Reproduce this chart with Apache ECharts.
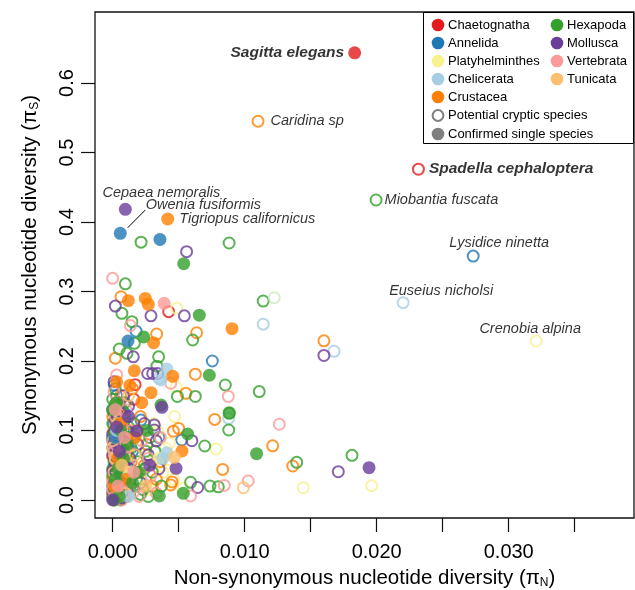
<!DOCTYPE html>
<html><head><meta charset="utf-8">
<script src="https://cdn.jsdelivr.net/npm/echarts@6/dist/echarts.min.js"></script>
<style>html,body{margin:0;padding:0;background:#fff}#c{width:635px;height:590px}</style>
</head><body><div id="c"></div>
<script>
// ---------- DATA ----------
const groupNames = ['Chaetognatha','Annelida','Platyhelminthes','Chelicerata','Crustacea','Hexapoda','Mollusca','Vertebrata','Tunicata'];
const xTicks = [0,0.005,0.01,0.015,0.02,0.025,0.03,0.035];
const xTickLabels = [0,0.01,0.02,0.03];
const yTicks = [0,0.1,0.2,0.3,0.4,0.5,0.6];

// [piN, piS]
const chaetognathaFilled = [[0.01833,0.6435]];
const chaetognathaOpen = [[0.02316,0.476],[0.00424,0.271],[0.0016,0.145],[0.0017,0.166],[0.0008,0.06],[0.0003,0.02]];

const annelidaFilled = [[0.000576,0.3837],[0.00358,0.375],[0.00116,0.2288],[0.0002,0.09],[0.0006,0.035]];
const annelidaOpen = [[0.02731,0.351],[0.00177,0.243],[0.00755,0.200],[0.00012,0.1655],[0.00214,0.115],[0.00523,0.0863],[0.0003,0.15],[0.0009,0.125],[0.0001,0.11],[0.0006,0.08],[0.0002,0.06],[0.001,0.045],[0.0004,0.03],[0.0001,0.01],[0.0015,0.07],[0.0007,0.005],[0.0035,0.09],[0.0,0.02],[0.0005,0.055],[0.0002,0.075],[0.0008,0.1],[0.0003,0.04],[0.0,0.09],[0.0006,0.13],[0.0004,0.015]];

const platyFilled = [[0.0035,0.06],[0.0012,0.04]];
const platyOpen = [[0.03208,0.2288],[0.00485,0.276],[0.0048,0.163],[0.00783,0.0734],[0.00366,0.049],[0.00535,0.0168],[0.01444,0.0177],[0.01962,0.0206],[0.0043,0.058],[0.004,0.075],[0.0025,0.065],[0.0012,0.1],[0.0003,0.13],[0.0007,0.04],[0.002,0.03],[0.0001,0.07],[0.0031,0.11],[0.0046,0.03],[0.0028,0.015],[0.0047,0.12],[0.0002,0.018],[0.0005,0.085],[0.0009,0.03],[0.0001,0.045],[0.0038,0.04],[0.0043,0.082],[0.0034,0.1],[0.0003,0.06],[0.0,0.1],[0.0007,0.012],[0.001,0.07]];

const chelicerataFilled = [[0.0041,0.1885],[0.00366,0.1727],[0.0041,0.068],[0.0038,0.06],[0.0003,0.1],[0.0012,0.005]];
const chelicerataOpen = [[0.0220,0.284],[0.0114,0.253],[0.01677,0.214],[0.00879,0.1175],[0.0035,0.175],[0.0004,0.14],[0.0008,0.02],[0.0001,0.05],[0.0006,0.07],[0.0003,0.012],[0.0,0.085],[0.0005,0.03]];

const crustaceaFilled = [[0.004167,0.4043],[0.00247,0.290],[0.00118,0.2868],[0.0027,0.2815],[0.0031,0.2263],[0.00904,0.2465],[0.00164,0.186],[0.00455,0.178],[0.0029,0.1544],[0.00525,0.0705],[0.0003,0.17],[0.0013,0.165],[0.0006,0.11],[0.0022,0.14],[0.0004,0.06],[0.001,0.03],[0.0017,0.09],[0.0001,0.02]];
const crustaceaOpen = [[0.01101,0.545],[0.00063,0.2925],[0.00333,0.2388],[0.00636,0.2407],[0.0002,0.204],[0.00626,0.181],[0.00555,0.1535],[0.00773,0.116],[0.0046,0.099],[0.005,0.103],[0.00833,0.044],[0.0044,0.0216],[0.0045,0.026],[0.016,0.229],[0.01212,0.078],[0.01364,0.0489],[0.0015,0.16],[0.0008,0.12],[0.0002,0.09],[0.0011,0.07],[0.0003,0.05],[0.0018,0.04],[0.0009,0.015],[0.0026,0.08],[0.0033,0.03],[0.0005,0.14],[0.0021,0.12],[0.0001,0.0],[0.0,0.008],[0.0003,0.016],[0.0006,0.025],[0.0001,0.038],[0.0004,0.045],[0.0008,0.055],[0.0,0.062],[0.0005,0.078],[0.0001,0.1],[0.0007,0.09],[0.001,0.005],[0.0012,0.035],[0.0004,0.13],[0.0019,0.1],[0.0024,0.05],[0.003,0.02],[0.0036,0.055],[0.0002,0.003],[0.0007,0.012],[0.0,0.03],[0.0002,0.068],[0.0009,0.04],[0.0003,0.11],[0.0,0.12],[0.0011,0.095],[0.0006,0.15],[0.0014,0.055]];

const hexapodaFilled = [[0.00538,0.340],[0.00656,0.266],[0.00235,0.2346],[0.00732,0.1795],[0.00366,0.1367],[0.00883,0.1257],[0.00568,0.095],[0.0109,0.0666],[0.00535,0.0096],[0.00353,0.0058],[0.0001,0.0],[0.0003,0.14],[0.0006,0.1],[0.0,0.13],[0.0011,0.08],[0.0004,0.045],[0.0015,0.025],[0.0026,0.1],[0.0008,0.06],[0.0005,0.005],[0.002,0.04],[0.0002,0.03]];
const hexapodaOpen = [[0.01995,0.4317],[0.00215,0.371],[0.00882,0.3698],[0.00096,0.311],[0.0007,0.2686],[0.00146,0.2566],[0.00164,0.2255],[0.00606,0.2302],[0.0114,0.2863],[0.0005,0.2173],[0.00108,0.211],[0.00348,0.206],[0.00335,0.1926],[0.00853,0.1655],[0.0049,0.149],[0.00626,0.149],[0.0111,0.156],[0.00883,0.1247],[0.00879,0.1007],[0.00697,0.0777],[0.01394,0.0542],[0.01813,0.0643],[0.0059,0.0255],[0.00737,0.02],[0.008,0.019],[0.0002,0.16],[0.0009,0.14],[0.0004,0.12],[0.0012,0.105],[0.0001,0.095],[0.0007,0.085],[0.0014,0.075],[0.0003,0.068],[0.0009,0.058],[0.0002,0.048],[0.0011,0.038],[0.0005,0.028],[0.0013,0.018],[0.0002,0.01],[0.0008,0.003],[0.0019,0.055],[0.0024,0.045],[0.0028,0.09],[0.0032,0.07],[0.0037,0.02],[0.0016,0.11],[0.0021,0.008],[0.0,0.005],[0.0001,0.015],[0.0003,0.022],[0.0,0.035],[0.0006,0.042],[0.0001,0.055],[0.0004,0.062],[0.0,0.075],[0.0007,0.02],[0.001,0.012],[0.0005,0.095],[0.0,0.11],[0.0008,0.033],[0.0012,0.045],[0.0003,0.082],[0.0006,0.0],[0.001,0.065],[0.0002,0.1],[0.0018,0.03],[0.0023,0.015],[0.0027,0.005],[0.003,0.04],[0.0016,0.09],[0.0025,0.07],[0.0001,0.025],[0.0004,0.008],[0.0,0.045],[0.0003,0.052],[0.0006,0.07],[0.0,0.088],[0.0004,0.105],[0.0009,0.115],[0.0001,0.125],[0.0007,0.13],[0.0011,0.09],[0.0005,0.015],[0.0002,0.138],[0.0008,0.078],[0.0013,0.03],[0.0,0.145]];
const hexapodaPale = [[0.01224,0.291]];

const molluscaFilled = [[0.00096,0.4183],[0.00182,0.0993],[0.0048,0.0456],[0.01942,0.0465],[0.00373,0.1334],[0.0,0.0],[0.0005,0.07],[0.0012,0.12],[0.0028,0.05],[0.0003,0.105]];
const molluscaOpen = [[0.0056,0.3573],[0.0002,0.279],[0.0029,0.265],[0.00543,0.265],[0.00156,0.206],[0.00265,0.182],[0.00303,0.182],[0.0034,0.182],[0.00315,0.108],[0.00315,0.1007],[0.006,0.0853],[0.00644,0.018],[0.016,0.208],[0.01709,0.0407],[0.0001,0.17],[0.0008,0.15],[0.0003,0.125],[0.0012,0.135],[0.0005,0.09],[0.0013,0.06],[0.0002,0.04],[0.0009,0.025],[0.0003,0.008],[0.0019,0.08],[0.0024,0.11],[0.0035,0.045],[0.0006,0.075],[0.0011,0.1],[0.0,0.012],[0.0004,0.018],[0.0001,0.028],[0.0007,0.035],[0.0002,0.052],[0.0005,0.06],[0.0,0.065],[0.0009,0.045],[0.0003,0.085],[0.0,0.095],[0.0006,0.002],[0.0011,0.015],[0.0002,0.115],[0.0021,0.025],[0.0027,0.065],[0.0033,0.085],[0.0001,0.004],[0.0005,0.025],[0.0,0.042],[0.0008,0.05],[0.0003,0.068],[0.0001,0.08],[0.0006,0.11],[0.0,0.13],[0.001,0.082],[0.0004,0.14],[0.0013,0.045]];

const vertebrataFilled = [[0.0039,0.283],[0.0002,0.13],[0.0009,0.09],[0.0016,0.04],[0.0004,0.02]];
const vertebrataOpen = [[0.0,0.319],[0.00134,0.251],[0.0044,0.168],[0.00876,0.149],[0.01262,0.109],[0.01027,0.0273],[0.00845,0.021],[0.0059,0.0058],[0.0003,0.18],[0.0001,0.155],[0.001,0.13],[0.0005,0.115],[0.0014,0.1],[0.0002,0.08],[0.0008,0.065],[0.0012,0.05],[0.0004,0.035],[0.0016,0.012],[0.0027,0.06],[0.0022,0.085],[0.0007,0.0],[0.0033,0.01],[0.0001,0.004],[0.0004,0.01],[0.0,0.025],[0.0006,0.048],[0.0002,0.058],[0.0001,0.07],[0.0009,0.075],[0.0003,0.095],[0.0011,0.028],[0.002,0.005],[0.0029,0.035],[0.0036,0.09],[0.0,0.015],[0.0005,0.04],[0.0003,0.065],[0.0,0.085],[0.0007,0.105],[0.0002,0.12],[0.001,0.01],[0.0004,0.14]];

const tunicataFilled = [[0.00467,0.0614],[0.0007,0.05],[0.0025,0.02]];
const tunicataOpen = [[0.0099,0.0177],[0.0012,0.15],[0.0003,0.09],[0.0009,0.01],[0.0017,0.065],[0.0005,0.03],[0.0002,0.06],[0.0006,0.012],[0.0001,0.04],[0.0,0.075],[0.0004,0.11],[0.0008,0.035]];

// labelled species: [name, piN, piS]
const speciesLabels = [
  ['Sagitta elegans',0.01833,0.6435],
  ['Caridina sp',0.01101,0.545],
  ['Spadella cephaloptera',0.02316,0.476],
  ['Miobantia fuscata',0.01995,0.4317],
  ['Cepaea nemoralis',0.00096,0.4183],
  ['Owenia fusiformis',0.000576,0.3837],
  ['Tigriopus californicus',0.004167,0.4043],
  ['Lysidice ninetta',0.02731,0.351],
  ['Euseius nicholsi',0.0220,0.284],
  ['Crenobia alpina',0.03208,0.2288]
];
const oweniaLeader = [[0.00114,0.3918],[0.00247,0.4173]];

// ---------- STYLE ----------
const colors = ['#e41a1c','#1f78b4','#f7f18f','#a6cee3','#ff7f00','#33a02c','#6a3d9a','#fb9a99','#fdbf6f'];
const FONT = '"Liberation Sans", Arial, Helvetica, sans-serif';

const labelStyle = {
  'Sagitta elegans': {position:'left', distance:10, bold:true},
  'Caridina sp': {position:'right', distance:12},
  'Spadella cephaloptera': {position:'right', distance:10, bold:true},
  'Miobantia fuscata': {position:'right', distance:8},
  'Cepaea nemoralis': {position:'top', distance:8, offset:[36,0]},
  'Owenia fusiformis': {position:'right', distance:25, offset:[0,-28]},
  'Tigriopus californicus': {position:'right', distance:11},
  'Lysidice ninetta': {position:'top', distance:5, offset:[26,0]},
  'Euseius nicholsi': {position:'top', distance:4, offset:[38,0]},
  'Crenobia alpina': {position:'top', distance:4, offset:[-6,0]}
};

const openSets = [chaetognathaOpen, annelidaOpen, platyOpen, chelicerataOpen, crustaceaOpen, hexapodaOpen, molluscaOpen, vertebrataOpen, tunicataOpen];
const filledSets = [chaetognathaFilled, annelidaFilled, platyFilled, chelicerataFilled, crustaceaFilled, hexapodaFilled, molluscaFilled, vertebrataFilled, tunicataFilled];

const series = [];
openSets.forEach((d,i)=>{
  series.push({type:'scatter', name:groupNames[i]+' open', data:d, symbol:'circle', symbolSize:11,
    itemStyle:{color:'rgba(0,0,0,0)', borderColor:colors[i], borderWidth:2}, z:2});
});
series.push({type:'scatter', name:'pale', data:hexapodaPale, symbolSize:11,
  itemStyle:{color:'rgba(0,0,0,0)', borderColor:'#cfe8bf', borderWidth:2}, z:2});
filledSets.forEach((d,i)=>{
  const s = {type:'scatter', name:groupNames[i]+' filled', data:d, symbol:'circle', symbolSize:13,
    itemStyle:{color:colors[i]}, z:3};
  if (groupNames[i]==='Annelida') {
    s.markLine = {silent:true, symbol:'none', animation:false, label:{show:false},
      lineStyle:{color:'#000', width:1, type:'solid'},
      data:[[{coord:oweniaLeader[0]},{coord:oweniaLeader[1]}]]};
  }
  series.push(s);
});
series.push({type:'scatter', name:'labels', symbolSize:1, itemStyle:{color:'rgba(0,0,0,0)'}, z:5,
  data: speciesLabels.map(r=>{
    const st = labelStyle[r[0]];
    return {value:[r[1],r[2]], label:{show:true, formatter:r[0], position:st.position, distance:st.distance,
      offset:st.offset||[0,0], fontStyle:'italic', fontWeight: st.bold?'bold':'normal',
      fontSize: st.bold?15.5:14.5, color:'#000', fontFamily:FONT}};
  })
});

// legend
const legendItems = [
  ['Chaetognatha',0,0,0],['Annelida',1,0,1],['Platyhelminthes',2,0,2],['Chelicerata',3,0,3],['Crustacea',4,0,4],
  ['Hexapoda',5,1,0],['Mollusca',6,1,1],['Vertebrata',7,1,2],['Tunicata',8,1,3]
];
const rowY = [25,43,61,79,97,115.5,134];
const colX = [438,557];
const LFONT = '13px ' + FONT;
const graphics = [{type:'rect', z:100, shape:{x:423.5,y:12.5,width:210,height:131}, style:{fill:'#fff', stroke:'#000', lineWidth:1}}];
legendItems.forEach(([t,ci,col,row])=>{
  graphics.push({type:'circle', z:101, shape:{cx:colX[col], cy:rowY[row], r:6.3}, style:{fill:colors[ci]}});
  graphics.push({type:'text', z:101, x:colX[col]+10, y:rowY[row], style:{text:t, fill:'#000', font:LFONT, textVerticalAlign:'middle'}});
});
graphics.push({type:'circle', z:101, shape:{cx:colX[0], cy:rowY[5], r:5.4}, style:{fill:'#fff', stroke:'#808080', lineWidth:2}});
graphics.push({type:'text', z:101, x:colX[0]+10, y:rowY[5], style:{text:'Potential cryptic species', fill:'#000', font:LFONT, textVerticalAlign:'middle'}});
graphics.push({type:'circle', z:101, shape:{cx:colX[0], cy:rowY[6], r:6.3}, style:{fill:'#808080'}});
graphics.push({type:'text', z:101, x:colX[0]+10, y:rowY[6], style:{text:'Confirmed single species', fill:'#000', font:LFONT, textVerticalAlign:'middle'}});

const chart = echarts.init(document.getElementById('c'), null, {renderer:'canvas'});
chart.setOption({
  animation:false,
  backgroundColor:'#fff',
  textStyle:{fontFamily:FONT},
  grid:{left:95, top:12, right:1, bottom:72, show:true, borderColor:'#111', borderWidth:1.3, backgroundColor:'transparent',
    containLabel:false, outerBoundsMode:'none'},
  xAxis:{type:'value', min:-0.00134, max:0.03949,
    axisLine:{show:false, onZero:false}, splitLine:{show:false},
    axisTick:{show:true, length:14, customValues:xTicks, lineStyle:{color:'#111', width:1.2}},
    axisLabel:{customValues:xTickLabels, formatter:v=>v.toFixed(3), fontSize:20, margin:24, color:'#000'},
    name:'{a|Non-synonymous nucleotide diversity (π}{s|N}{a|)}', nameLocation:'middle', nameGap:49,
    nameTextStyle:{rich:{a:{fontSize:20.5,color:'#000',fontFamily:FONT}, s:{fontSize:12,color:'#000',fontFamily:FONT, padding:[10,0,0,0]}}}
  },
  yAxis:{type:'value', min:-0.0259, max:0.7022,
    axisLine:{show:false, onZero:false}, splitLine:{show:false},
    axisTick:{show:true, length:14, customValues:yTicks, lineStyle:{color:'#111', width:1.2}},
    axisLabel:{customValues:yTicks, formatter:v=>v.toFixed(1), fontSize:20, margin:18, rotate:90, color:'#000'},
    name:'{a|Synonymous nucleotide diversity (π}{s|S}{a|)}', nameLocation:'middle', nameGap:54,
    nameTextStyle:{rich:{a:{fontSize:20.5,color:'#000',fontFamily:FONT}, s:{fontSize:12,color:'#000',fontFamily:FONT, padding:[10,0,0,0]}}}
  },
  graphic: graphics,
  series: series
});
</script></body></html>
